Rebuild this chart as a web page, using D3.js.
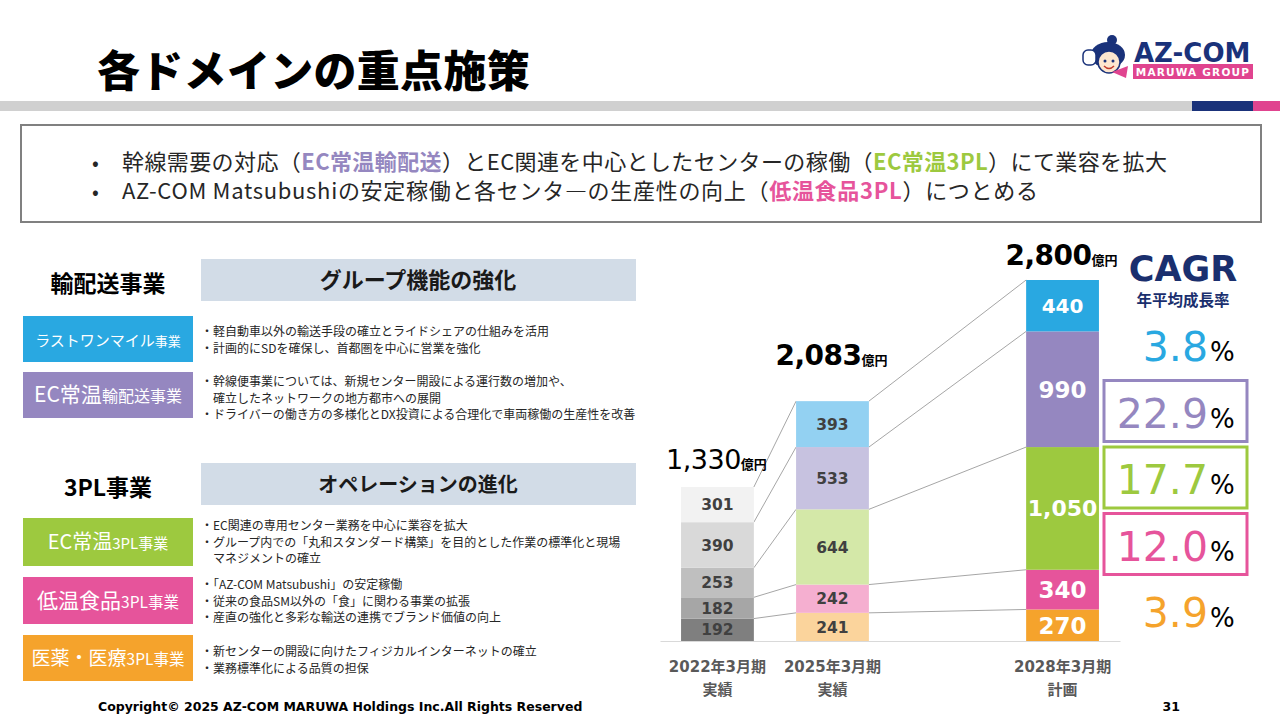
<!DOCTYPE html>
<html>
<head>
<meta charset="utf-8">
<script src="https://cdn.jsdelivr.net/npm/d3@7"></script>
<style>
  body { margin: 0; background: #fff; }
  svg { display: block; }
</style>
</head>
<body>
<svg id="slide" width="1280" height="720"></svg>
<script>
// ---- data ----
var periods = ["2022年3月期", "2025年3月期", "", "2028年3月期"];   // "" = empty slot before the plan year
var periodSub = ["実績", "実績", "", "計画"];
var segments = ["医薬・医療3PL", "低温食品3PL", "EC常温3PL", "EC常温輸配送", "ラストワンマイル"]; // bottom -> top
var sales2022 = [192, 182, 253, 390, 301];
var sales2025 = [241, 242, 644, 533, 393];
var sales2028 = [270, 340, 1050, 990, 440];
var totals = ["1,330", "2,083", "2,800"];
var cagr = [3.9, 12.0, 17.7, 22.9, 3.8];   // same order as segments
var cagrBoxed = [false, true, true, true, false];

// colours (bottom -> top)
var colors2022 = ["#7f7f7f", "#a6a6a6", "#bfbfbf", "#d9d9d9", "#f2f2f2"];
var colors2025 = ["#fbd49c", "#f5afd0", "#d4e8a8", "#c7c2e0", "#93d1f2"];
var colors2028 = ["#f5a32c", "#e6549b", "#9dc93f", "#9587c0", "#29a8e1"];
var labelSize2028 = [23, 23, 22, 23, 20];

var JP = "'Noto Sans CJK JP', sans-serif";
var NUM = "'DejaVu Sans', 'Noto Sans CJK JP', sans-serif";

var svg = d3.select("#slide");

// ---------- header ----------
svg.append("text").attr("x", 97).attr("y", 87)
    .style("font-family", JP).style("font-weight", 900).style("font-size", "43px").style("letter-spacing", "0.3px")
    .text("各ドメインの重点施策");

svg.append("rect").attr("x", 0).attr("y", 101).attr("width", 1192).attr("height", 10).attr("fill", "#d0d0d0");
svg.append("rect").attr("x", 1192).attr("y", 101).attr("width", 61).attr("height", 10).attr("fill", "#1a327a");
svg.append("rect").attr("x", 1253).attr("y", 101).attr("width", 27).attr("height", 10).attr("fill", "#e0448f");

// logo
var logo = svg.append("g");
logo.append("circle").attr("cx", 1112).attr("cy", 40).attr("r", 5).attr("fill", "#1a327a");
logo.append("ellipse").attr("cx", 1108).attr("cy", 55).attr("rx", 17).attr("ry", 13).attr("fill", "#1a327a");
logo.append("circle").attr("cx", 1109).attr("cy", 62).attr("r", 11).attr("fill", "#fde6cf").attr("stroke", "#1a327a").attr("stroke-width", 1.5);
logo.append("circle").attr("cx", 1105).attr("cy", 61).attr("r", 1.5).attr("fill", "#1a327a");
logo.append("circle").attr("cx", 1113).attr("cy", 61).attr("r", 1.5).attr("fill", "#1a327a");
logo.append("path").attr("d", "M1104,66 Q1109,71 1114,66").attr("fill", "none").attr("stroke", "#c0392b").attr("stroke-width", 1.5);
logo.append("rect").attr("x", 1083).attr("y", 50).attr("width", 13).attr("height", 15).attr("rx", 5)
    .attr("fill", "#fff").attr("stroke", "#1a327a").attr("stroke-width", 1.5);
logo.append("path").attr("d", "M1112,72 L1128,66 L1126,78 Z").attr("fill", "#e0448f");
logo.append("text").attr("x", 1134).attr("y", 62)
    .style("font-family", NUM).style("font-weight", "bold").style("font-size", "26px").attr("fill", "#1a327a")
    .text("AZ-COM");
logo.append("rect").attr("x", 1133).attr("y", 64).attr("width", 120).attr("height", 15).attr("fill", "#e0448f");
logo.append("text").attr("x", 1193).attr("y", 76).attr("text-anchor", "middle")
    .style("font-family", NUM).style("font-weight", "bold").style("font-size", "10.5px").style("letter-spacing", "1.2px")
    .attr("fill", "#fff").text("MARUWA GROUP");

// ---------- summary box ----------
svg.append("rect").attr("x", 21).attr("y", 125).attr("width", 1240).attr("height", 97)
    .attr("fill", "#fff").attr("stroke", "#808080").attr("stroke-width", 2);

var summary = [
  [["幹線需要の対応（", null], ["EC常温輸配送", "#9587c0"], ["）とEC関連を中心としたセンターの稼働（", null],
   ["EC常温3PL", "#9dc93f"], ["）にて業容を拡大", null]],
  [["AZ-COM Matsubushiの安定稼働と各センタ―の生産性の向上（", null], ["低温食品3PL", "#e6549b"], ["）につとめる", null]]
];
var summarySpacing = [0.4, 0.7];
summary.forEach(function (line, i) {
  var yy = 170 + i * 29;
  svg.append("text").attr("x", 92).attr("y", yy).style("font-family", JP).style("font-size", "20px")
      .attr("fill", "#262626").text("•");
  var t = svg.append("text").attr("x", 122).attr("y", yy)
      .style("font-family", JP).style("font-size", "22px").style("letter-spacing", summarySpacing[i] + "px")
      .attr("fill", "#262626");
  line.forEach(function (p) {
    var s = t.append("tspan").text(p[0]);
    if (p[1]) s.attr("fill", p[1]).style("font-weight", "bold");
  });
});

// ---------- left panel ----------
var panel = svg.append("g").style("font-family", JP);

function sectionHead(label, title, top, titleSize) {
  panel.append("text").attr("x", 108).attr("y", top + 33).attr("text-anchor", "middle")
      .style("font-weight", "bold").style("font-size", "23px").text(label);
  panel.append("rect").attr("x", 201).attr("y", top).attr("width", 435).attr("height", 42).attr("fill", "#d2dce7");
  panel.append("text").attr("x", 418).attr("y", top + 29).attr("text-anchor", "middle")
      .style("font-weight", "bold").style("font-size", titleSize + "px").attr("fill", "#1a1a1a").text(title);
}

function business(big, small, color, top, h, lines, lineTop) {
  panel.append("rect").attr("x", 23).attr("y", top).attr("width", 170).attr("height", h).attr("fill", color);
  var t = panel.append("text").attr("x", 108).attr("y", top + h / 2 + 7).attr("text-anchor", "middle").attr("fill", "#fff");
  t.append("tspan").style("font-size", big[1] + "px").text(big[0]);
  t.append("tspan").style("font-size", small[1] + "px").text(small[0]);
  lines.forEach(function (l, i) {
    panel.append("text").attr("x", 201).attr("y", lineTop + i * 16.5)
        .style("font-size", "12px").attr("fill", "#262626").text(l);
  });
}

sectionHead("輸配送事業", "グループ機能の強化", 259, 22);
business(["ラストワンマイル", 15], ["事業", 13], "#29a8e1", 316, 46,
  ["・軽自動車以外の輸送手段の確立とライドシェアの仕組みを活用",
   "・計画的にSDを確保し、首都圏を中心に営業を強化"], 336);
business(["EC常温", 21], ["輸配送事業", 16], "#9587c0", 372, 46,
  ["・幹線便事業については、新規センター開設による運行数の増加や、",
   "　確立したネットワークの地方都市への展開",
   "・ドライバーの働き方の多様化とDX投資による合理化で車両稼働の生産性を改善"], 386);

sectionHead("3PL事業", "オペレーションの進化", 463, 20);
business(["EC常温", 20], ["3PL事業", 15], "#9dc93f", 518, 48,
  ["・EC関連の専用センター業務を中心に業容を拡大",
   "・グループ内での「丸和スタンダード構築」を目的とした作業の標準化と現場",
   "　マネジメントの確立"], 530);
business(["低温食品", 21], ["3PL事業", 15.5], "#e6549b", 577, 47,
  ["・「AZ-COM Matsubushi」の安定稼働",
   "・従来の食品SM以外の「食」に関わる事業の拡張",
   "・産直の強化と多彩な輸送の連携でブランド価値の向上"], 589);
business(["医薬・医療", 19], ["3PL事業", 15.5], "#f5a32c", 635, 46,
  ["・新センターの開設に向けたフィジカルインターネットの確立",
   "・業務標準化による品質の担保"], 656);

// ---------- stacked bar chart ----------
var barPeriods = [periods[0], periods[1], periods[3]];
var barColors = [colors2022, colors2025, colors2028];
var table = [sales2022, sales2025, sales2028].map(function (vals, i) {
  var row = { period: barPeriods[i] };
  segments.forEach(function (s, j) { row[s] = vals[j]; });
  return row;
});
var series = d3.stack().keys(segments)(table);

var x = d3.scaleBand().domain(periods).range([660, 1120]).paddingInner(0.367).paddingOuter(0.183);
var y = d3.scaleLinear()
    .domain([0, d3.max(series[series.length - 1], function (d) { return d[1]; })])
    .range([641, 280]);
var bw = x.bandwidth();

var chart = svg.append("g");

// connector lines between the tops of matching segments
series.forEach(function (s) {
  for (var i = 0; i < s.length - 1; i++) {
    chart.append("line")
        .attr("x1", x(s[i].data.period) + bw).attr("y1", y(s[i][1]))
        .attr("x2", x(s[i + 1].data.period)).attr("y2", y(s[i + 1][1]))
        .attr("stroke", "#a6a6a6").attr("stroke-width", 1);
  }
});

series.forEach(function (s, j) {
  chart.selectAll(null).data(s).enter().append("rect")
      .attr("x", function (d) { return x(d.data.period); })
      .attr("y", function (d) { return y(d[1]); })
      .attr("width", bw)
      .attr("height", function (d) { return y(d[0]) - y(d[1]); })
      .attr("fill", function (d, i) { return barColors[i][j]; });

  chart.selectAll(null).data(s).enter().append("text")
      .attr("x", function (d) { return x(d.data.period) + bw / 2; })
      .attr("y", function (d) { return (y(d[0]) + y(d[1])) / 2; })
      .attr("dy", "0.36em")
      .attr("text-anchor", "middle")
      .style("font-family", NUM).style("font-weight", "bold")
      .style("font-size", function (d, i) { return i === 2 ? labelSize2028[j] + "px" : "15.5px"; })
      .attr("fill", function (d, i) { return i === 2 ? "#fff" : "#404040"; })
      .text(function (d) { return d3.format(",")(d[1] - d[0]); });
});

// axis line + two-line period labels
var axis = chart.append("g").attr("transform", "translate(0," + y(0) + ")")
    .call(d3.axisBottom(x).tickSize(0).tickPadding(0));
axis.select(".domain").attr("stroke", "#d9d9d9");
axis.selectAll(".tick text").each(function (d, i) {
  var t = d3.select(this).text(null).attr("y", 0).attr("dy", null)
      .attr("fill", "#595959")
      .style("font-family", NUM).style("font-weight", "bold").style("font-size", "15px");
  t.append("tspan").attr("x", 0).attr("y", 31).text(periods[i]);
  t.append("tspan").attr("x", 0).attr("y", 54).style("font-family", JP).text(periodSub[i]);
});

// totals above the bars
var totalLift = [18, 36, 15];
var totalBold = [false, true, true];
var totalSize = [27, 28, 28];
barPeriods.forEach(function (p, i) {
  var top = y(d3.sum([sales2022, sales2025, sales2028][i]));
  var t = chart.append("text").attr("x", x(p) + bw / 2 - 1).attr("y", top - totalLift[i])
      .attr("text-anchor", "middle").attr("fill", "#000").style("font-family", NUM);
  t.append("tspan").style("font-size", totalSize[i] + "px").style("font-weight", totalBold[i] ? "bold" : "normal")
      .style("letter-spacing", "-0.5px").text(totals[i]);
  t.append("tspan").style("font-family", JP).style("font-size", "13px").style("font-weight", "bold").text("億円");
});

// ---------- CAGR ----------
svg.append("text").attr("x", 1183).attr("y", 281).attr("text-anchor", "middle")
    .style("font-family", NUM).style("font-weight", "bold").style("font-size", "35px").attr("fill", "#1a2f6e")
    .text("CAGR");
svg.append("text").attr("x", 1183).attr("y", 306).attr("text-anchor", "middle")
    .style("font-family", JP).style("font-weight", "bold").style("font-size", "15.5px").attr("fill", "#1a2f6e")
    .text("年平均成長率");

var rowY = d3.scalePoint().domain(segments.slice().reverse()).range([361, 627]);
var cg = svg.append("g");
segments.forEach(function (s, j) {
  var by = rowY(s);
  if (cagrBoxed[j]) {
    cg.append("rect").attr("x", 1104).attr("y", by - 47).attr("width", 143).attr("height", 61)
        .attr("fill", "#fff").attr("stroke", colors2028[j]).attr("stroke-width", 3);
  }
  cg.append("text").attr("x", 1208).attr("y", by).attr("text-anchor", "end")
      .style("font-family", NUM).style("font-size", "41px").attr("fill", colors2028[j])
      .text(d3.format(".1f")(cagr[j]));
  cg.append("text").attr("x", 1210).attr("y", by).style("font-family", NUM).style("font-size", "26px")
      .attr("fill", "#000").text("%");
});

// ---------- footer ----------
svg.append("text").attr("x", 98).attr("y", 711)
    .style("font-family", NUM).style("font-weight", "bold").style("font-size", "12.5px").attr("fill", "#000")
    .text("Copyright© 2025 AZ-COM MARUWA Holdings Inc.All Rights Reserved");
svg.append("text").attr("x", 1180).attr("y", 711).attr("text-anchor", "end")
    .style("font-family", NUM).style("font-weight", "bold").style("font-size", "12.5px").attr("fill", "#000")
    .text("31");
</script>
</body>
</html>
